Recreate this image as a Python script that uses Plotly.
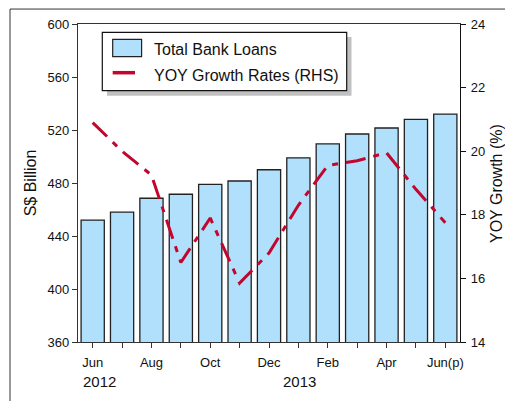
import plotly.graph_objects as go

months = ["Jun", "Jul", "Aug", "Sep", "Oct", "Nov", "Dec",
          "Jan", "Feb", "Mar", "Apr", "May", "Jun(p)"]
tick_labels = ["Jun", "", "Aug", "", "Oct", "", "Dec", "", "Feb", "", "Apr", "", "Jun(p)"]
years = ["2012", "2013"]
year_pos = [0, 7]
loans = [452, 458, 468.5, 471.5, 479, 481.5, 490, 499, 509.5, 517, 521.5, 528, 532]
growth = [20.9, 20.0, 19.25, 16.5, 17.9, 15.85, 16.8, 18.3, 19.55, 19.7, 19.95, 18.8, 17.75]
legend_names = ["Total Bank Loans", "YOY Growth Rates (RHS)"]
right_title = "YOY Growth (%)"

BAR_COLOR = "#B0E0FB"
LINE_COLOR = "#C2062E"
x = list(range(len(months)))
FONT = "Liberation Sans, Arial, Helvetica, sans-serif"

fig = go.Figure()
fig.add_trace(go.Bar(
    x=x, y=loans, name=legend_names[0],
    marker=dict(color=BAR_COLOR, line=dict(color="#222222", width=1.3)),
    width=0.79,
))
fig.add_trace(go.Scatter(
    x=x, y=growth, name=legend_names[1], yaxis="y2", mode="lines",
    line=dict(color=LINE_COLOR, width=3, dash="20px,8px,6px,8px"),
))

P = dict(xref="paper", yref="paper")
shapes = [
    # outer frame (top and left edges)
    dict(type="line", **P, x0=-0.178, x1=1.2, y0=1.047, y1=1.047,
         line=dict(color="#333", width=1)),
    dict(type="line", **P, x0=-0.178, x1=-0.178, y0=1.047, y1=-0.3,
         line=dict(color="#333", width=1)),
    # legend shadow
    dict(type="rect", **P, x0=0.0759, x1=0.716, y0=0.7745, y1=0.9591,
         fillcolor="#C0C0C0", line=dict(width=0), layer="above"),
    # legend box
    dict(type="rect", **P, x0=0.0636, x1=0.7034, y0=0.7903, y1=0.9739,
         fillcolor="white", line=dict(color="#111", width=1.2), layer="above"),
    # legend swatches
    dict(type="rect", **P, x0=0.0908, x1=0.1665, y0=0.8972, y1=0.9519,
         fillcolor=BAR_COLOR, line=dict(color="#222", width=1.2), layer="above"),
    dict(type="line", **P, x0=0.0908, x1=0.1492, y0=0.8469, y1=0.8469,
         line=dict(color=LINE_COLOR, width=3.5), layer="above"),
]

annotations = [
    dict(x=xp, y=-0.091, xref="x", yref="paper", text=t, showarrow=False,
         font=dict(family=FONT, size=15, color="#111"), yanchor="top",
         xshift=7 if i == 0 else 1)
    for i, (xp, t) in enumerate(zip(year_pos, years))
]
for name, yc in zip(legend_names, [0.9204, 0.8365]):
    annotations.append(dict(x=0.1945, y=yc, **P, text=name, showarrow=False,
                            xanchor="left", yanchor="middle",
                            font=dict(family=FONT, size=16, color="#111")))
annotations.append(dict(x=1.097, y=0.497, **P, text=right_title, showarrow=False,
                        textangle=-90, xanchor="center", yanchor="middle",
                        font=dict(family=FONT, size=16, color="#111")))

fig.update_layout(
    # page body has an 8px margin; the figure is sized so it fills the 513x401 window
    width=505, height=393,
    margin=dict(l=70, r=53, t=16, b=59, autoexpand=False),
    paper_bgcolor="white", plot_bgcolor="white",
    font=dict(family=FONT, size=13, color="#111"),
    showlegend=False,
    xaxis=dict(range=[-0.5, 12.5], tickvals=x, ticktext=tick_labels, tickmode="array",
               showline=True, linecolor="#333", linewidth=1.2, mirror=True,
               ticks="outside", ticklen=5, tickcolor="#333", showgrid=False,
               ticklabelstandoff=3, automargin=False,
               tickfont=dict(family=FONT, size=13, color="#111"), zeroline=False),
    yaxis=dict(range=[360, 600], dtick=40, tick0=360, showline=True, linecolor="#333",
               linewidth=1.2, ticks="outside", ticklen=5, tickcolor="#333", showgrid=False,
               zeroline=False, automargin=False,
               tickfont=dict(family=FONT, size=13, color="#111"),
               title=dict(text="S$ Billion", font=dict(family=FONT, size=16, color="#111"),
                          standoff=6)),
    yaxis2=dict(range=[14, 24], dtick=2, tick0=14, overlaying="y", side="right",
                showline=True, linecolor="#111", linewidth=1.2, ticks="outside", ticklen=5,
                tickcolor="#111", showgrid=False, zeroline=False,
                ticklabelstandoff=2, automargin=False,
                tickfont=dict(family=FONT, size=13, color="#111")),
    shapes=shapes,
    annotations=annotations,
)

fig.write_html("out.html")
